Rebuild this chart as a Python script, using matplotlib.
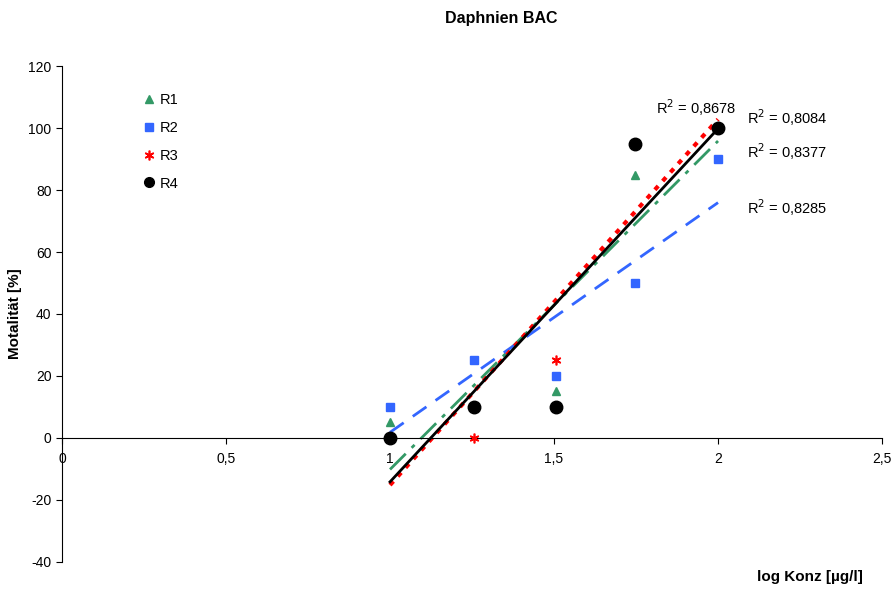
import numpy as np
import matplotlib
matplotlib.use("Agg")
import matplotlib.pyplot as plt

plt.rcParams['font.family'] = ['Liberation Sans', 'DejaVu Sans']
plt.rcParams['axes.unicode_minus'] = False

x = [1.0, 1.255, 1.505, 1.748, 2.0]
r1 = [5, 10, 15, 85, 100]
r2 = [10, 25, 20, 50, 90]
r3 = [0, 0, 25, 95, 100]
r4 = [0, 10, 10, 95, 100]
r2_labels = ["0,8377", "0,8285", "0,8678", "0,8084"]  # R1..R4, as printed

fig = plt.figure(figsize=(8.95, 5.9), dpi=100)
ax = fig.add_axes([0.0693, 0.0475, 0.9162, 0.8406])

xx = np.array(x)
fit_x = np.array([1.0, 2.0])

def trend(y, color, ls, lw):
    p = np.polyfit(xx, y, 1)
    ax.plot(fit_x, np.polyval(p, fit_x), color=color, linestyle=ls, lw=lw, zorder=2)

trend(r1, '#339966', (0, (8, 3, 1.5, 3)), 2)
trend(r2, '#3366FF', (0, (6, 4)), 2)
trend(r3, '#FF0000', (0, (1.2, 1.6)), 3)
trend(r4, 'black', '-', 2)

ax.plot(x, r1, '^', color='#339966', ms=6, ls='none', label='R1', zorder=3)
ax.plot(x, r2, 's', color='#3366FF', ms=6, ls='none', label='R2', zorder=3)
ax.plot(x, r3, marker=(6, 2, 0), color='#FF0000', mec='#FF0000', mew=1.2, ms=7, ls='none', label='R3', zorder=3)
ax.plot(x, r4, 'o', color='black', ms=9, ls='none', label='R4', zorder=4)

def r2text(xp, yp, s):
    ax.text(xp, yp, "R$^2$ = " + s, fontsize=10.5, va='center', ha='left')

r2text(1.812, 106.5, r2_labels[2])
r2text(2.088, 103.3, r2_labels[3])
r2text(2.088, 92.5, r2_labels[0])
r2text(2.088, 74.3, r2_labels[1])

ax.set_xlim(0, 2.5)
ax.set_ylim(-40, 120)
ax.set_xticks([0, 0.5, 1, 1.5, 2, 2.5])
ax.set_xticklabels(['0', '0,5', '1', '1,5', '2', '2,5'])
ax.set_yticks(range(-40, 121, 20))
ax.spines['top'].set_visible(False)
ax.spines['right'].set_visible(False)
ax.spines['bottom'].set_position(('data', 0))
ax.tick_params(labelsize=10, length=4)
ax.tick_params(axis='x', pad=6)

leg = ax.legend(loc='upper left', bbox_to_anchor=(0.08, 0.972), frameon=False, handletextpad=0.1,
                handlelength=1.2, labelspacing=0.95, fontsize=10.5, numpoints=1)
leg.legend_handles[3].set_markersize(7)

fig.text(0.56, 0.969, "Daphnien BAC", fontsize=11.5, fontweight='bold', ha='center', va='center')
fig.text(0.905, 0.022, "log Konz [µg/l]", fontsize=11, fontweight='bold', ha='center', va='center')
fig.text(0.017, 0.468, "Motalität [%]", fontsize=11, fontweight='bold', ha='center', va='center', rotation=90)

fig.savefig("out.png")
